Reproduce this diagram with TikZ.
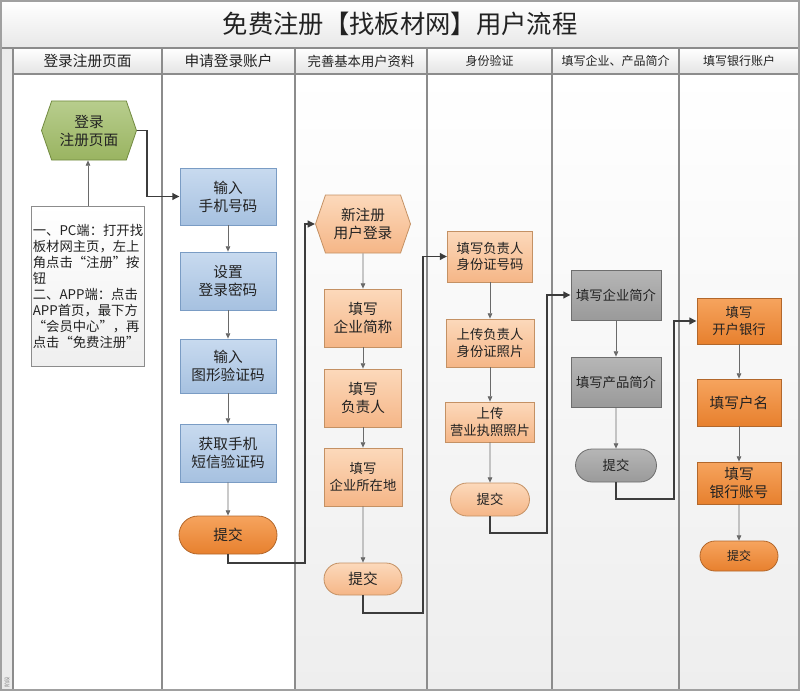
\documentclass[tikz,border=0pt]{standalone}
\usepackage{fontspec}
\setmainfont{Noto Sans CJK SC}
\usepackage{tikz}
\usetikzlibrary{positioning,calc,arrows.meta,shapes.symbols,shapes.misc}
\definecolor{txt}{HTML}{222222}
\definecolor{laneLine}{HTML}{8C8C8C}
\definecolor{frameLine}{HTML}{A0A0A0}
\definecolor{titleBot}{HTML}{E8E8E8}
\definecolor{hdrBot}{HTML}{E4E4E4}
\definecolor{laneBot}{HTML}{EEEEEE}
\definecolor{stripGray}{HTML}{EBEBEB}
\definecolor{arrGray}{HTML}{6A6A6A}
\definecolor{arrDark}{HTML}{3C3C3C}
\definecolor{greenTop}{HTML}{B7CD8D}
\definecolor{greenBot}{HTML}{9AB461}
\definecolor{greenLine}{HTML}{718A40}
\definecolor{blueTop}{HTML}{C8DAEF}
\definecolor{blueBot}{HTML}{A6C1E0}
\definecolor{blueLine}{HTML}{7A9CC4}
\definecolor{peachTop}{HTML}{FCD9BB}
\definecolor{peachBot}{HTML}{F5B687}
\definecolor{peachLine}{HTML}{C49164}
\definecolor{orngTop}{HTML}{F6A45E}
\definecolor{orngBot}{HTML}{E7802E}
\definecolor{orngLine}{HTML}{B2672B}
\definecolor{grayTop}{HTML}{B6B6B6}
\definecolor{grayBot}{HTML}{9A9A9A}
\definecolor{grayLine}{HTML}{6E6E6E}
\definecolor{noteTop}{HTML}{FFFFFF}
\definecolor{noteBot}{HTML}{EFEFEF}
\definecolor{noteLine}{HTML}{8C8C8C}
\newcommand\fbig{\fontsize{11}{13.5}\selectfont}
\newcommand\fmid{\fontsize{10}{12.5}\selectfont}
\newcommand\fsml{\fontsize{9}{11}\selectfont}

\begin{document}
\begin{tikzpicture}[x=0.75pt,y=-0.75pt,
  sz/.style 2 args={minimum width=#1*0.75pt,minimum height=#2*0.75pt,inner sep=0pt},
  proc/.style={rectangle,draw=#1Line,top color=#1Top,bottom color=#1Bot,text=txt,align=center,line width=0.6pt},
  term/.style={rounded rectangle,draw=#1Line,top color=#1Top,bottom color=#1Bot,text=txt,align=center,line width=0.6pt},
  hexa/.style={signal,signal to=east and west,signal pointer angle=142,draw=#1Line,top color=#1Top,bottom color=#1Bot,text=txt,align=center,line width=0.6pt},
  flow/.style={draw=arrGray,line width=0.6pt,-{Triangle[length=4pt,width=3.5pt]}},
  jump/.style={draw=arrDark,line width=1.4pt,-{Triangle[length=5.5pt,width=5pt]}}]
  \useasboundingbox (0,0) rectangle (800,692);
  % frame and lanes
  \shade[top color=white,bottom color=titleBot] (1,1) rectangle (799,48);
  \fill[stripGray] (1,48) rectangle (13,690);
  \shade[top color=white,bottom color=laneBot] (295,74) rectangle (799,690);
  \shade[top color=white,bottom color=hdrBot] (13,48) rectangle (799,74);
  \foreach \x in {13,162,295,427,552,679} \draw[laneLine,line width=0.8pt] (\x,48) -- (\x,690);
  \draw[laneLine,line width=0.8pt] (1,48) -- (799,48) (13,74) -- (799,74);
  \draw[frameLine,line width=1.5pt] (1,1) rectangle (799,690);
  \node[text=txt,font=\fontsize{19}{22}\selectfont] (title) at (400,24) {免费注册【找板材网】用户流程};
  \node[text=gray,rotate=90,font=\fontsize{4}{4}\selectfont,inner sep=0pt] (phase) at (7,682) {阶段};
  \node[text=txt,font=\fbig] (hdr1) at (87.5,61) {登录注册页面};
  \node[text=txt,font=\fbig] (hdr2) at (228.5,61) {申请登录账户};
  \node[text=txt,font=\fmid] (hdr3) at (361,61) {完善基本用户资料};
  \node[text=txt,font=\fsml] (hdr4) at (489.5,61) {身份验证};
  \node[text=txt,font=\fsml] (hdr5) at (615.5,61) {填写企业、产品简介};
  \node[text=txt,font=\fsml] (hdr6) at (739,61) {填写银行账户};

  % lane 1
  \node[hexa=green,sz={95}{59},font=\fbig] (login) at (89,130.5) {登录\\注册页面};
  \node[proc=note,sz={113}{160},align=left,font=\fontsize{10}{12}\selectfont] (tip) at (88,286)
    {一、PC端：打开找\\板材网主页，左上\\角点击“注册”按\\钮\\二、APP端：点击\\APP首页，最下方\\“会员中心”，再\\点击“免费注册”};
  % lane 2
  \node[proc=blue,sz={96}{57},font=\fbig] (phone) at (228,196.5) {输入\\手机号码};
  \node[proc=blue,sz={96}{58},font=\fbig] (pwd) at (228,281) {设置\\登录密码};
  \node[proc=blue,sz={96}{54},font=\fbig] (captcha) at (228,366) {输入\\图形验证码};
  \node[proc=blue,sz={96}{58},font=\fbig] (sms) at (228,453) {获取手机\\短信验证码};
  \node[term=orng,sz={98}{38},font=\fbig] (sub1) at (228,535) {提交};
  % lane 3
  \node[hexa=peach,sz={95}{58},font=\fbig] (newreg) at (363,224) {新注册\\用户登录};
  \node[proc=peach,sz={77}{58},font=\fbig] (abbr) at (363,318) {填写\\企业简称};
  \node[proc=peach,sz={77}{58},font=\fbig] (head) at (363,398) {填写\\负责人};
  \node[proc=peach,sz={78}{58},font=\fmid] (addr) at (363,477) {填写\\企业所在地};
  \node[term=peach,sz={78}{32},font=\fbig] (sub2) at (363,579) {提交};
  % lane 4
  \node[proc=peach,sz={85}{51},font=\fmid] (idnum) at (490,256.5) {填写负责人\\身份证号码};
  \node[proc=peach,sz={88}{48},font=\fmid] (idphoto) at (490,343) {上传负责人\\身份证照片};
  \node[proc=peach,sz={89}{40},font=\fmid] (license) at (490,422) {上传\\营业执照照片};
  \node[term=peach,sz={79}{33},font=\fmid] (sub3) at (490,499.5) {提交};
  % lane 5
  \node[proc=gray,sz={90}{50},font=\fmid] (intro) at (616,295) {填写企业简介};
  \node[proc=gray,sz={90}{50},font=\fmid] (prod) at (616,382) {填写产品简介};
  \node[term=gray,sz={81}{33},font=\fmid] (sub4) at (616,465.5) {提交};
  % lane 6
  \node[proc=orng,sz={84}{46},font=\fmid] (bank) at (739,321) {填写\\开户银行};
  \node[proc=orng,sz={84}{47},font=\fbig] (holder) at (739,402.5) {填写户名};
  \node[proc=orng,sz={84}{42},font=\fbig] (acct) at (739,483) {填写\\银行账号};
  \node[term=orng,sz={78}{30},font=\fsml] (sub5) at (739,556) {提交};

  % arrows
  \draw[flow] (tip.north) -- (tip.north |- login.south);
  \draw[jump] (login.east) -- ++(10,0) |- (phone.west);
  \draw[flow] (phone) -- (pwd);
  \draw[flow] (pwd) -- (captcha);
  \draw[flow] (captcha) -- (sms);
  \draw[flow] (sms) -- (sub1);
  \draw[jump] (sub1.south) -- ++(0,9) -| ($(newreg.west)+(-10,0)$) -- (newreg.west);
  \draw[flow] (newreg) -- (abbr);
  \draw[flow] (abbr) -- (head);
  \draw[flow] (head) -- (addr);
  \draw[flow] (addr) -- (sub2);
  \draw[jump] (sub2.south) -- ++(0,18) -| ($(idnum.west)+(-24,0)$) -- (idnum.west);
  \draw[flow] (idnum) -- (idphoto);
  \draw[flow] (idphoto) -- (license);
  \draw[flow] (license) -- (sub3);
  \draw[jump] (sub3.south) -- ++(0,17) -| ($(intro.west)+(-24,0)$) -- (intro.west);
  \draw[flow] (intro) -- (prod);
  \draw[flow] (prod) -- (sub4);
  \draw[jump] (sub4.south) -- ++(0,17) -| ($(bank.west)+(-23,0)$) -- (bank.west);
  \draw[flow] (bank) -- (holder);
  \draw[flow] (holder) -- (acct);
  \draw[flow] (acct) -- (sub5);
\end{tikzpicture}
\end{document}
